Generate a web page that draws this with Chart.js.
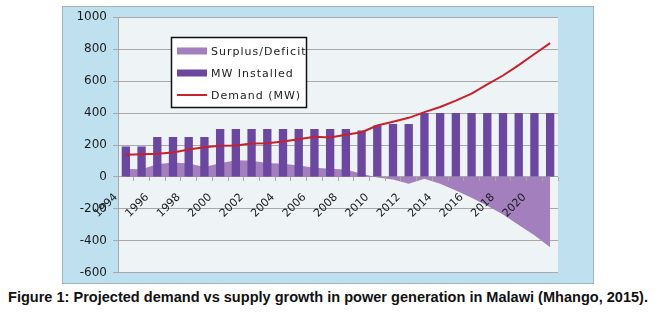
<!DOCTYPE html>
<html>
<head>
<meta charset="utf-8">
<script src="https://cdn.jsdelivr.net/npm/chart.js@4.4.1/dist/chart.umd.min.js"></script>
<style>
  html, body { margin: 0; padding: 0; background: #ffffff; width: 655px; height: 313px; overflow: hidden; }
  #box { position: absolute; left: 62px; top: 6px; width: 530px; height: 276px; background: #bfe1ef; border: 1px solid #9db3be; }
  #c { display: block; position: absolute; left: 0; top: -3px; }
  #cap { position: absolute; left: 8px; top: 289px; white-space: nowrap; font-family: "Liberation Sans Narrow", "Liberation Sans", Arial, sans-serif; font-weight: bold; font-size: 14px; color: #111; transform-origin: 0 0; }
</style>
</head>
<body>
<div id="box"><canvas id="c" width="530" height="282"></canvas></div>
<div id="cap">Figure 1: Projected demand vs supply growth in power generation in Malawi (Mhango, 2015).</div>
<script>
const years = ["1994","1995","1996","1997","1998","1999","2000","2001","2002","2003","2004","2005","2006","2007","2008","2009","2010","2011","2012","2013","2014","2015","2016","2017","2018","2019","2020","2021"];
const mwInstalled = [190,190,250,250,250,250,300,300,300,300,300,300,300,300,300,290,322,332,332,400,400,400,400,400,400,400,400,400];
const demandMW = [139,142,145,153,172,186,195,197,209,211,222,236,252,247,264,280,322,345,370,406,438,478,522,580,635,700,770,838];
const surplusDeficit = [49,48,80,90,84,62,86,105,101,88,82,72,58,52,46,20,-3,-16,-42,-12,-42,-85,-130,-180,-235,-300,-365,-440];
const yTicks = [-600,-400,-200,0,200,400,600,800,1000];

const COL_AREA = "#a47fbd";
const COL_BAR = "#6c479f";
const COL_LINE = "#c7212b";
const COL_GRID = "#a8a8a8";

const plotBg = {
  id: "plotBg",
  beforeDraw(chart) {
    const a = chart.chartArea, ctx = chart.ctx;
    ctx.save();
    ctx.fillStyle = "#eef3f6";
    ctx.fillRect(a.left, a.top, a.right - a.left, a.bottom - a.top);
    ctx.restore();
  }
};

const boxLegend = {
  id: "boxLegend",
  afterDraw(chart) {
    const ctx = chart.ctx;
    const x0 = 108, y0 = 33, w = 135, h = 70;
    ctx.save();
    ctx.fillStyle = "#ffffff";
    ctx.fillRect(x0, y0, w, h);
    ctx.strokeStyle = "#111";
    ctx.lineWidth = 1.5;
    ctx.strokeRect(x0 + 0.5, y0 + 0.5, w, h);
    const items = [
      { t: "Surplus/Deficit", kind: "box", c: COL_AREA },
      { t: "MW Installed", kind: "box", c: COL_BAR },
      { t: "Demand (MW)", kind: "line", c: COL_LINE }
    ];
    ctx.font = "11px 'DejaVu Sans'";
    try { ctx.letterSpacing = "1px"; } catch (e) {}
    ctx.textBaseline = "middle";
    items.forEach((it, i) => {
      const cy = y0 + 14 + i * 22;
      if (it.kind === "box") {
        ctx.fillStyle = it.c;
        ctx.fillRect(x0 + 6, cy - 3.5, 30, 7);
      } else {
        ctx.strokeStyle = it.c;
        ctx.lineWidth = 2;
        ctx.beginPath();
        ctx.moveTo(x0 + 6, cy);
        ctx.lineTo(x0 + 36, cy);
        ctx.stroke();
      }
      ctx.fillStyle = "#222";
      ctx.fillText(it.t, x0 + 40, cy + 1);
    });
    ctx.restore();
  }
};

new Chart(document.getElementById("c"), {
  data: {
    labels: years,
    datasets: [
      { type: "line", label: "Demand (MW)", data: demandMW, borderColor: COL_LINE, borderWidth: 2, pointRadius: 0, tension: 0, fill: false, order: 0 },
      { type: "bar", label: "MW Installed", data: mwInstalled, backgroundColor: COL_BAR, categoryPercentage: 1.0, barPercentage: 0.53, order: 1 },
      { type: "line", label: "Surplus/Deficit", data: surplusDeficit, borderWidth: 0, borderColor: COL_AREA, backgroundColor: COL_AREA, pointRadius: 0, tension: 0, fill: "origin", order: 2 }
    ]
  },
  options: {
    responsive: false,
    animation: false,
    devicePixelRatio: 1,
    layout: { padding: { left: 0, right: 35, top: 2, bottom: 8 } },
    plugins: { legend: { display: false }, tooltip: { enabled: false } },
    scales: {
      x: {
        type: "category",
        offset: true,
        position: { y: 0 },
        z: 1,
        grid: { display: true, drawOnChartArea: false, drawTicks: true, tickLength: 4, color: COL_GRID, offset: true, z: 1 },
        border: { display: false },
        ticks: {
          z: 2,
          autoSkip: false, maxRotation: 45, minRotation: 45, labelOffset: -10, padding: 10,
          color: "#1a1a1a", font: { family: "DejaVu Sans", size: 11 },
          callback: function (v, i) { return i % 2 === 0 ? years[i] : ""; }
        }
      },
      y: {
        min: -600, max: 1000,
        afterBuildTicks: (s) => { s.ticks = yTicks.map(v => ({ value: v })); },
        afterFit: (s) => { s.width = 55; },
        grid: { color: COL_GRID, tickLength: 5 },
        border: { display: true, color: COL_GRID },
        ticks: { color: "#1a1a1a", padding: 6, font: { family: "DejaVu Sans", size: 12 }, callback: (v) => String(v) }
      }
    }
  },
  plugins: [plotBg, boxLegend]
});

const cap = document.getElementById("cap");
const wCap = cap.getBoundingClientRect().width;
cap.style.transform = "scaleX(" + (640 / wCap) + ")";
</script>
</body>
</html>
